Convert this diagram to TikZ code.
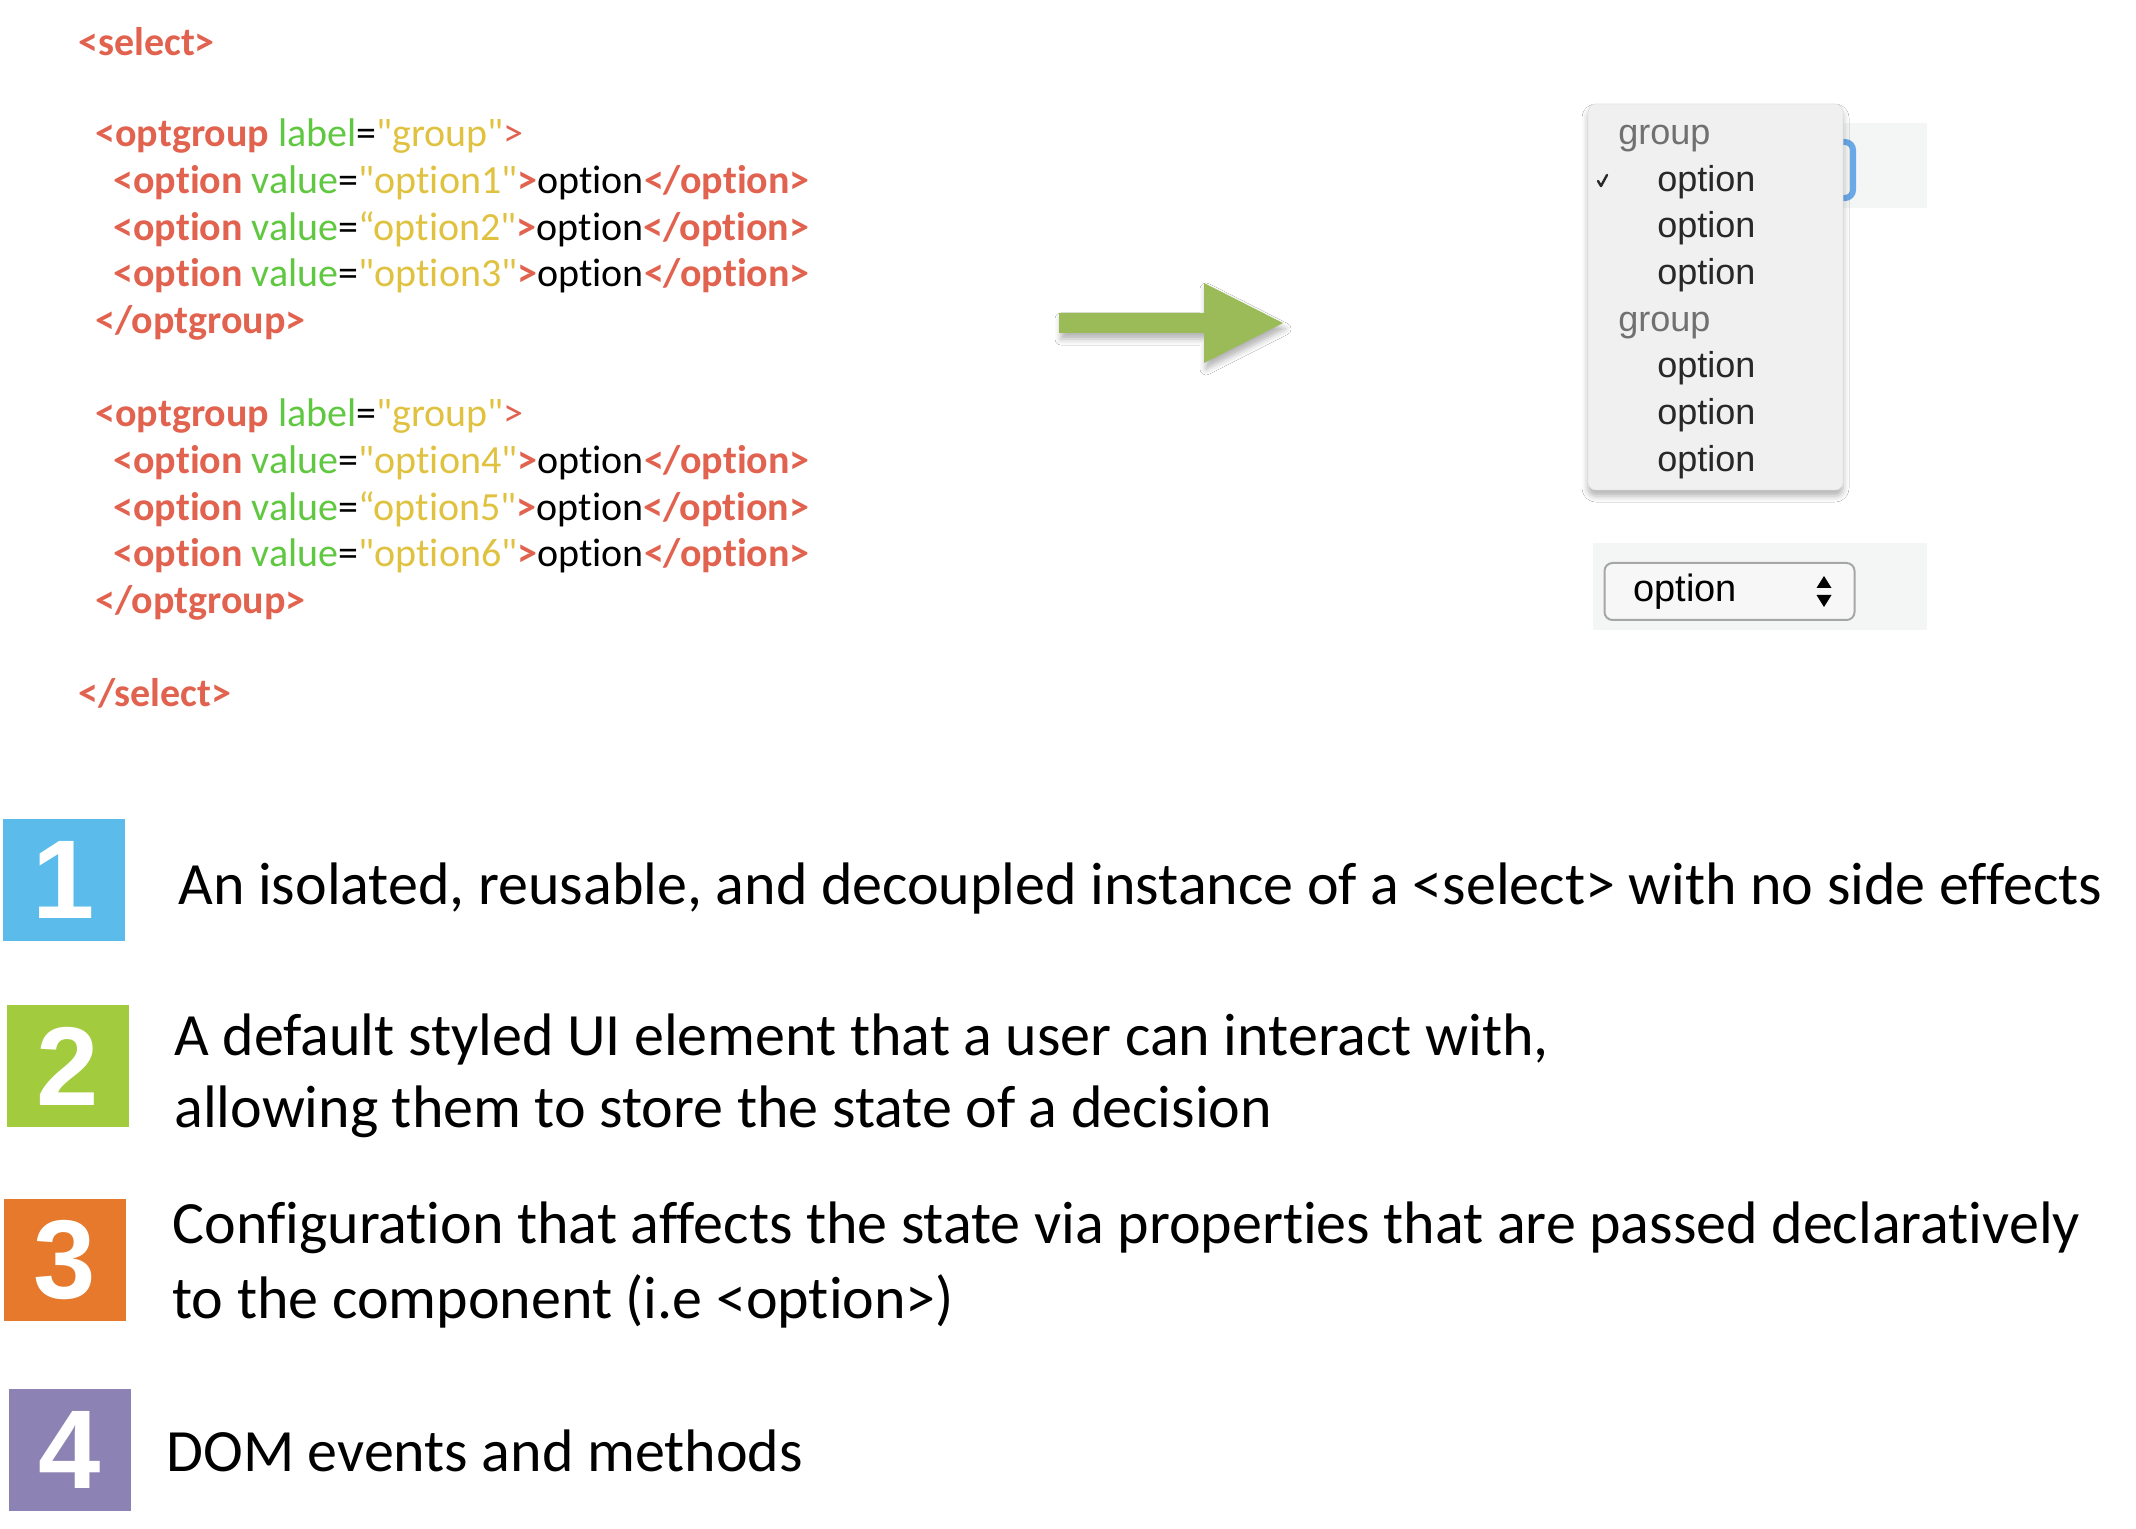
\documentclass[tikz,border=0pt]{standalone}
\usepackage{fontspec}
\setmainfont{Carlito}[Ligatures={TeXOff,CommonOff}]
\newfontfamily\uifont{Liberation Sans}
\usetikzlibrary{shadows.blur}

\definecolor{tagred}{RGB}{225,98,78}
\definecolor{attrgreen}{RGB}{96,200,64}
\definecolor{valyellow}{RGB}{224,194,64}
\definecolor{arrowgreen}{RGB}{155,187,89}
\definecolor{boxblue}{RGB}{91,188,235}
\definecolor{boxgreen}{RGB}{162,203,61}
\definecolor{boxorange}{RGB}{230,121,43}
\definecolor{boxpurple}{RGB}{140,131,180}
\definecolor{panel}{RGB}{244,245,245}
\definecolor{popfill}{RGB}{240,240,240}
\definecolor{focusblue}{RGB}{106,168,232}
\definecolor{grouptext}{RGB}{112,112,112}
\definecolor{opttext}{RGB}{40,40,40}

% markup colouring helpers
\newcommand\ctag[1]{\textcolor{tagred}{\bfseries #1}}
\newcommand\ctagl[1]{\textcolor{tagred}{#1}}
\newcommand\cattr[1]{\textcolor{attrgreen}{#1}}
\newcommand\cval[1]{\textcolor{valyellow}{#1}}
\newcommand\optline[2]{\ctag{<option} \cattr{value}=\cval{#1option#2"}\ctag{>}option\ctag{</option>}}

\tikzset{
  code/.style={anchor=mid west, inner sep=0pt, font=\fontsize{20}{24}\selectfont},
  desc/.style={anchor=mid west, inner sep=0pt, font=\fontsize{30}{36}\selectfont},
  numbox/.style={inner sep=0pt, minimum width=61pt, minimum height=61pt,
    text=white, font=\uifont\bfseries\fontsize{56}{56}\selectfont},
  grp/.style={anchor=base west, inner sep=0pt, text=grouptext, font=\uifont\fontsize{18}{20}\selectfont},
  opt/.style={anchor=base west, inner sep=0pt, text=opttext, font=\uifont\fontsize{18}{20}\selectfont},
}

\begin{document}
\begin{tikzpicture}[x=0.5pt,y=-0.5pt]
  \fill[white] (0,0) rectangle (2136,1529);
  \useasboundingbox (0,0) rectangle (2136,1529);

  % ---- markup listing ----
  \node[code] (s1) at (78,51)    {\ctag{<select>}};
  \node[code] (g1) at (95,142)   {\ctag{<optgroup} \cattr{label}=\cval{"group"}\ctagl{>}};
  \node[code] (o1) at (113,189)  {\optline{"}{1}};
  \node[code] (o2) at (113,236)  {\optline{“}{2}};
  \node[code] (o3) at (113,282)  {\optline{"}{3}};
  \node[code] (e1) at (95,329)   {\ctag{</optgroup>}};
  \node[code] (g2) at (95,422)   {\ctag{<optgroup} \cattr{label}=\cval{"group"}\ctagl{>}};
  \node[code] (o4) at (113,469)  {\optline{"}{4}};
  \node[code] (o5) at (113,516)  {\optline{“}{5}};
  \node[code] (o6) at (113,562)  {\optline{"}{6}};
  \node[code] (e2) at (95,609)   {\ctag{</optgroup>}};
  \node[code] (s2) at (78,702)   {\ctag{</select>}};

  % ---- big arrow ----
  \fill[arrowgreen, blur shadow={shadow xshift=1pt, shadow yshift=-3pt, shadow blur radius=3pt, shadow opacity=30}]
    (1059,313) -- (1204,313) -- (1204,283) -- (1283,323) -- (1204,363) -- (1204,333) -- (1059,333) -- cycle;

  % ---- open dropdown ----
  \fill[panel] (1843,123) rectangle (1927,208);
  \draw[focusblue, line width=3pt, rounded corners=4pt] (1790,142) rectangle (1853,198);
  \node[draw=gray!22, fill=popfill, rounded corners=4pt, minimum width=127.5pt, minimum height=193pt,
        blur shadow={shadow xshift=0pt, shadow yshift=-3pt, shadow blur radius=3pt, shadow opacity=30}]
        (popup) at (1715.5,297) {};
  \draw[opttext, line width=1.2pt, line cap=round, line join=round] (1598,181) -- (1601,186) -- (1607,175);
  \node[grp] (pg1) at (1618,145) {group};
  \node[opt] (po1) at (1657,192) {option};
  \node[opt] (po2) at (1657,238) {option};
  \node[opt] (po3) at (1657,285) {option};
  \node[grp] (pg2) at (1618,332) {group};
  \node[opt] (po4) at (1657,378) {option};
  \node[opt] (po5) at (1657,425) {option};
  \node[opt] (po6) at (1657,472) {option};

  % ---- closed select ----
  \fill[panel] (1593,543) rectangle (1927,630);
  \node[draw=gray!70, line width=1pt, fill=white!97!black, rounded corners=4pt,
        minimum width=125pt, minimum height=28.5pt] (closed) at (1729.5,591.5) {};
  \node[anchor=base west, inner sep=0pt, font=\uifont\fontsize{19}{22}\selectfont] (cval) at (1633,602) {option};
  \fill[black] (1824,576) -- (1831.5,588) -- (1816.5,588) -- cycle;
  \fill[black] (1824,607) -- (1831.5,595) -- (1816.5,595) -- cycle;

  % ---- numbered notes ----
  \node[numbox, fill=boxblue]   (n1) at (64,880)    {1};
  \node[numbox, fill=boxgreen]  (n2) at (68,1066)   {2};
  \node[numbox, fill=boxorange] (n3) at (65,1260)   {3};
  \node[numbox, fill=boxpurple] (n4) at (69.5,1449.5) {4};

  \node[desc] (t1)  at (178,900)  {An isolated, reusable, and decoupled instance of a <select> with no side effects};
  \node[desc] (t2a) at (174,1051) {A default styled UI element that a user can interact with,};
  \node[desc] (t2b) at (174,1123) {allowing them to store the state of a decision};
  \node[desc] (t3a) at (172,1239) {Configuration that affects the state via properties that are passed declaratively};
  \node[desc] (t3b) at (172,1314) {to the component (i.e <option>)};
  \node[desc] (t4)  at (166,1467) {DOM events and methods};
\end{tikzpicture}
\end{document}
